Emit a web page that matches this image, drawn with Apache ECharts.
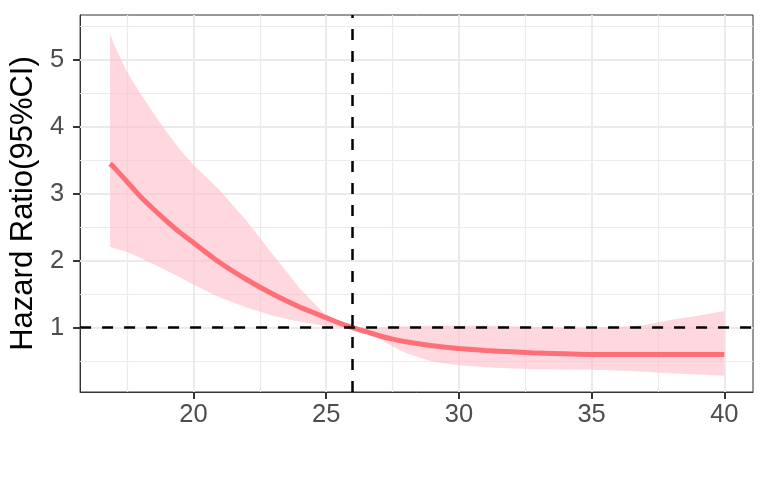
<!DOCTYPE html>
<html>
<head>
<meta charset="utf-8">
<script src="https://cdn.jsdelivr.net/npm/echarts@6/dist/echarts.min.js"></script>
<style>html,body{margin:0;padding:0;background:#fff}#c{width:768px;height:480px}</style>
</head>
<body>
<div id="c"></div>
<script>
// Exposure values (x)
const xs    = [16.86, 17, 17.5, 18, 18.5, 19, 19.5, 20, 21, 22, 23, 24, 25, 25.5, 26, 26.5, 27, 27.5, 28, 29, 30, 31, 32, 33, 34, 35, 36, 37, 38, 39, 40];
// Hazard ratio curve
const hr    = [3.45, 3.40, 3.18, 2.96, 2.77, 2.59, 2.42, 2.27, 1.97, 1.72, 1.50, 1.31, 1.15, 1.07, 1.00, 0.94, 0.88, 0.83, 0.79, 0.73, 0.69, 0.66, 0.64, 0.62, 0.61, 0.60, 0.60, 0.60, 0.60, 0.60, 0.60];
// 95% CI upper / lower
const upper = [5.39, 5.24, 4.82, 4.50, 4.20, 3.92, 3.66, 3.43, 3.05, 2.60, 2.09, 1.59, 1.18, 1.08, 1.00, 1.00, 1.00, 1.01, 1.02, 1.03, 1.03, 1.03, 1.02, 1.01, 1.00, 1.00, 1.01, 1.04, 1.12, 1.18, 1.25];
const lower = [2.21, 2.19, 2.13, 2.04, 1.95, 1.85, 1.75, 1.64, 1.45, 1.30, 1.18, 1.09, 1.03, 1.01, 1.00, 0.92, 0.84, 0.72, 0.62, 0.49, 0.44, 0.41, 0.39, 0.38, 0.375, 0.37, 0.36, 0.34, 0.32, 0.30, 0.28];
// Axis ticks and grid breaks
const xTicks = [20, 25, 30, 35, 40];
const xMinor = [17.5, 22.5, 27.5, 32.5, 37.5];
const yTicks = [1, 2, 3, 4, 5];
const yMinor = [0.5, 1.5, 2.5, 3.5, 4.5, 5.5];
const refX = 26;
const refY = 1;
const yTitle = 'Hazard Ratio(95%CI)';

const FONT = 'Liberation Sans';
const chart = echarts.init(document.getElementById('c'), null, {renderer: 'canvas'});

const gridLines = [];
xTicks.forEach(v => gridLines.push({xAxis: v, lineStyle: {color: '#EBEBEB', width: 2, type: 'solid'}}));
xMinor.forEach(v => gridLines.push({xAxis: v, lineStyle: {color: '#EBEBEB', width: 1.2, type: 'solid'}}));
yTicks.forEach(v => gridLines.push({yAxis: v, lineStyle: {color: '#EBEBEB', width: 2, type: 'solid'}}));
yMinor.forEach(v => gridLines.push({yAxis: v, lineStyle: {color: '#EBEBEB', width: 1.2, type: 'solid'}}));

const option = {
  animation: false,
  backgroundColor: '#fff',
  grid: {left: 80, right: 15, top: 15, bottom: 88, show: true, borderColor: '#333333', borderWidth: 1, backgroundColor: '#fff'},
  xAxis: {
    type: 'value', min: 15.729, max: 41.08,
    splitLine: {show: false},
    axisLine: {show: true, onZero: false, lineStyle: {color: '#333333', width: 1}},
    axisTick: {show: true, customValues: xTicks, length: 7, lineStyle: {color: '#333333', width: 2}},
    axisLabel: {customValues: xTicks, color: '#4D4D4D', fontSize: 25.5, fontFamily: FONT, margin: 10}
  },
  yAxis: {
    type: 'value', min: 0.039, max: 5.673,
    name: yTitle, nameLocation: 'middle', nameGap: 37, nameRotate: 90,
    nameTextStyle: {color: '#000', fontSize: 31, fontFamily: FONT},
    splitLine: {show: false},
    axisLine: {show: true, onZero: false, lineStyle: {color: '#333333', width: 1}},
    axisTick: {show: true, customValues: yTicks, length: 7, lineStyle: {color: '#333333', width: 2}},
    axisLabel: {customValues: yTicks, color: '#4D4D4D', fontSize: 25.5, fontFamily: FONT, margin: 16}
  },
  series: [
    {
      type: 'line', data: [], silent: true, z: 1,
      markLine: {silent: true, symbol: 'none', z: 1, label: {show: false}, emphasis: {disabled: true}, data: gridLines}
    },
    {
      type: 'custom', silent: true, z: 2,
      data: [[xs[0], upper[0]]],
      renderItem: function (params, api) {
        const pts = [];
        for (let i = 0; i < xs.length; i++) pts.push(api.coord([xs[i], upper[i]]));
        for (let i = xs.length - 1; i >= 0; i--) pts.push(api.coord([xs[i], lower[i]]));
        return {type: 'polygon', shape: {points: pts}, style: {fill: 'rgba(255,192,203,0.62)'}};
      }
    },
    {
      type: 'line', z: 3, silent: true,
      data: xs.map((x, i) => [x, hr[i]]),
      showSymbol: false, smooth: 0.2,
      lineStyle: {color: '#FF6F77', width: 5}
    },
    {
      type: 'line', data: [], silent: true, z: 4,
      markLine: {
        silent: true, symbol: 'none', z: 6, label: {show: false}, emphasis: {disabled: true},
        lineStyle: {color: '#000', width: 2.5, type: [11, 11]},
        data: [{xAxis: refX}, {yAxis: refY}]
      }
    }
  ]
};
chart.setOption(option);
</script>
</body>
</html>
